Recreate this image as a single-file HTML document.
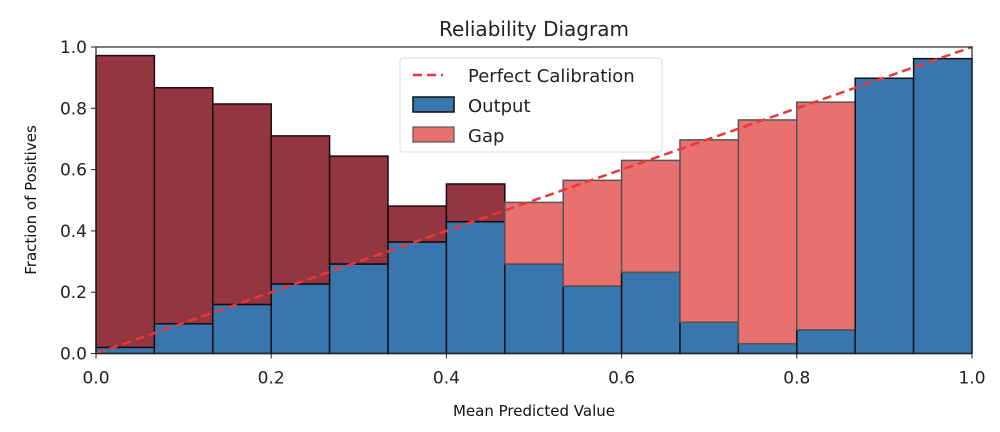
<!DOCTYPE html>
<html><head><meta charset="utf-8"><style>
body{margin:0;background:#fff;}
svg{display:block;font-family:"DejaVu Sans","Liberation Sans",sans-serif;}
</style></head><body>
<svg id="chart" width="1000" height="432" viewBox="0 0 1000 432">
<text x="534" y="36" font-size="20" text-anchor="middle" fill="#222">Reliability Diagram</text>
<g id="bars"></g>
<line id="diag" stroke="#e8393a" stroke-width="2.5" stroke-dasharray="9,5"/>
<rect x="96" y="47" width="876" height="306.5" fill="none" stroke="#222" stroke-width="1.2"/>
<g id="ticks" font-size="17" fill="#222"></g>
<text transform="translate(36,200) rotate(-90)" font-size="15" text-anchor="middle" fill="#111">Fraction of Positives</text>
<text x="534" y="416" font-size="15" text-anchor="middle" fill="#111">Mean Predicted Value</text>
<g>
<rect x="400" y="58" width="262" height="94" rx="3" fill="#fff" fill-opacity="0.85" stroke="#ddd"/>
<line x1="413" y1="75" x2="443" y2="75" stroke="#e8393a" stroke-width="2.5" stroke-dasharray="9,5"/>
<text x="468" y="82" font-size="18" fill="#222">Perfect Calibration</text>
<rect x="413" y="97" width="41" height="15" fill="#3a76ae" stroke="#111" stroke-width="1.5"/>
<text x="468" y="112" font-size="18" fill="#222">Output</text>
<rect x="413" y="127" width="41" height="15" fill="#e8706e" stroke="#555" stroke-width="1.2"/>
<text x="468" y="142" font-size="18" fill="#222">Gap</text>
</g>
</svg>
<script>
const outputs=[0.02,0.097,0.16,0.227,0.292,0.364,0.43,0.292,0.22,0.265,0.102,0.032,0.077,0.898,0.962];
const gapTops=[0.972,0.867,0.814,0.71,0.644,0.481,0.553,0.493,0.565,0.63,0.697,0.762,0.82,0.898,0.962];
const xTicks=["0.0","0.2","0.4","0.6","0.8","1.0"];
const yTicks=["0.0","0.2","0.4","0.6","0.8","1.0"];
const X0=96,X1=972,Y0=353.5,Y1=47;
const sx=v=>X0+v*(X1-X0), sy=v=>Y0-v*(Y0-Y1);
const NS="http://www.w3.org/2000/svg";
const bars=document.getElementById('bars');
const n=outputs.length,w=1/n;
function rect(x0,x1,y0,y1,fill,stroke){
 const r=document.createElementNS(NS,'rect');
 r.setAttribute('x',sx(x0));r.setAttribute('width',sx(x1)-sx(x0));
 r.setAttribute('y',sy(Math.max(y0,y1)));r.setAttribute('height',Math.abs(sy(y0)-sy(y1)));
 r.setAttribute('fill',fill);r.setAttribute('stroke',stroke);r.setAttribute('stroke-width','1.5');
 bars.appendChild(r);return r;
}
for(let i=0;i<n;i++){
 const c=(i+0.5)*w;
 const b=rect(i*w,(i+1)*w,0,outputs[i],'#3a76ae','#111');
 
 
 if(gapTops[i]>outputs[i]){
  const over=c<outputs[i]||i<7;
  const g=rect(i*w,(i+1)*w,outputs[i],gapTops[i],over?'#943641':'#e8706e',over?'#1a0a0c':'#555');
  
  
 }
}
const d=document.getElementById('diag');
d.setAttribute('x1',sx(0));d.setAttribute('y1',sy(0));d.setAttribute('x2',sx(1));d.setAttribute('y2',sy(1));
const tk=document.getElementById('ticks');
xTicks.forEach((t,i)=>{const v=i/(xTicks.length-1);
 const l=document.createElementNS(NS,'line');l.setAttribute('x1',sx(v));l.setAttribute('x2',sx(v));l.setAttribute('y1',Y0);l.setAttribute('y2',Y0+5);l.setAttribute('stroke','#222');tk.appendChild(l);
 const s=document.createElementNS(NS,'text');s.setAttribute('x',sx(v));s.setAttribute('y',Y0+30);s.setAttribute('text-anchor','middle');s.textContent=t;
 
 
 tk.appendChild(s);});
yTicks.forEach((t,i)=>{const v=i/(yTicks.length-1);
 const l=document.createElementNS(NS,'line');l.setAttribute('x1',X0-5);l.setAttribute('x2',X0);l.setAttribute('y1',sy(v));l.setAttribute('y2',sy(v));l.setAttribute('stroke','#222');tk.appendChild(l);
 const s=document.createElementNS(NS,'text');s.setAttribute('x',X0-9);s.setAttribute('y',sy(v)+6);s.setAttribute('text-anchor','end');s.textContent=t;
 
 
 tk.appendChild(s);});
</script>
</body></html>
